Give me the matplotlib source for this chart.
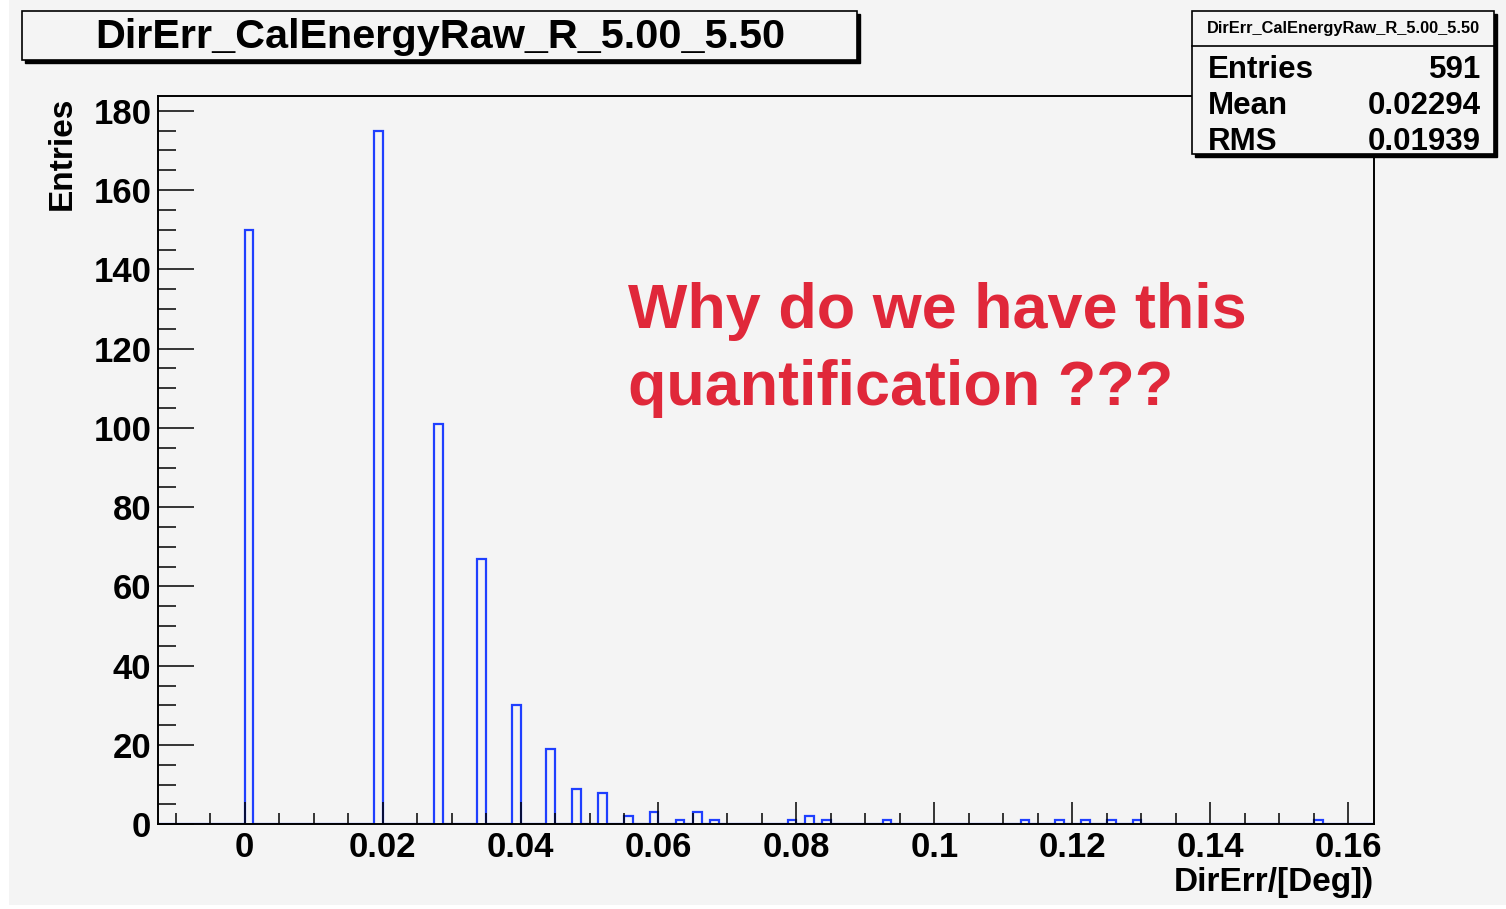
import numpy as np
import matplotlib
matplotlib.use("Agg")
import matplotlib.pyplot as plt
from matplotlib.patches import Rectangle
from matplotlib.ticker import MultipleLocator

# ---------------- data ----------------
bin_low = [0.0, 0.01875, 0.0275, 0.03375, 0.03875, 0.04375, 0.0475, 0.05125,
           0.055, 0.05875, 0.0625, 0.065, 0.0675, 0.07875, 0.08125, 0.08375,
           0.0925, 0.1125, 0.1175, 0.12125, 0.125, 0.12875, 0.155]
bin_counts = [150, 175, 101, 67, 30, 19, 9, 8,
              2, 3, 1, 3, 1, 1, 2, 1,
              1, 1, 1, 1, 1, 1, 1]
hist_xmin = -0.0125
hist_xmax = 0.16375
hist_nbins = 141
hist_name = "DirErr_CalEnergyRaw_R_5.00_5.50"
stat_labels = ["Entries", "Mean", "RMS"]
stat_values = ["591", "0.02294", "0.01939"]
x_label = "DirErr/[Deg])"
y_label = "Entries"
note_text = "Why do we have this\nquantification ???"

# ---------------- figure ----------------
W, H = 1506, 909
BG = "#f4f4f4"
FONT = "Liberation Sans"
fig = plt.figure(figsize=(W / 100, H / 100), dpi=100, facecolor="white")


def fx(x):
    return x / W


def fy(y):
    return 1 - y / H


# grey canvas
fig.patches.append(Rectangle((fx(9), fy(905)), fx(W - 9), 905 / H,
                             transform=fig.transFigure, facecolor=BG,
                             edgecolor="none", zorder=-10))

ax_l, ax_r, ax_t, ax_b = 158.3, 1374.3, 96.0, 824.3
ax = fig.add_axes([fx(ax_l), fy(ax_b), (ax_r - ax_l) / W, (ax_b - ax_t) / H])
ax.set_facecolor(BG)

edges = np.linspace(hist_xmin, hist_xmax, hist_nbins + 1)
width = edges[1] - edges[0]
vals, _ = np.histogram(np.array(bin_low) + width / 2, bins=edges,
                       weights=np.array(bin_counts, dtype=float))
ax.stairs(vals, edges, baseline=0, color="#1f3fff", linewidth=1.6, zorder=2)

ax.set_xlim(hist_xmin, hist_xmax)
ax.set_ylim(0, max(bin_counts) * 1.05)
ax.set_axisbelow(False)

for s in ax.spines.values():
    s.set_linewidth(1.4)
    s.set_color("black")
    s.set_zorder(3)

ax.xaxis.set_major_locator(MultipleLocator(0.02))
ax.xaxis.set_minor_locator(MultipleLocator(0.005))
ax.yaxis.set_major_locator(MultipleLocator(20))
ax.yaxis.set_minor_locator(MultipleLocator(5))
ax.tick_params(axis="x", which="major", direction="in", length=15.5, width=1.1,
               top=False, pad=5)
ax.tick_params(axis="x", which="minor", direction="in", length=8.2, width=1.1,
               top=False)
ax.tick_params(axis="y", which="major", direction="in", length=26, width=1.1,
               right=False, pad=5)
ax.tick_params(axis="y", which="minor", direction="in", length=13, width=1.1,
               right=False)

ax.set_xticks(np.arange(0, 0.161, 0.02))
ax.set_xticklabels(["0", "0.02", "0.04", "0.06", "0.08", "0.1", "0.12", "0.14", "0.16"])
ax.set_xlim(hist_xmin, hist_xmax)
for lab in ax.get_xticklabels() + ax.get_yticklabels():
    lab.set_fontfamily(FONT)
    lab.set_fontweight("bold")
    lab.set_fontsize(25)

# axis titles
fig.text(fx(62), fy(97), y_label, rotation=90, ha="center", va="top",
         fontsize=24, fontweight="bold", family=FONT)
fig.text(fx(1374), fy(883), x_label, ha="right", va="center",
         fontsize=24, fontweight="bold", family=FONT)


# boxes with shadow
def box(x0, y0, x1, y1, shadow=3):
    fig.patches.append(Rectangle((fx(x0 + shadow), fy(y1 + shadow)),
                                 (x1 - x0) / W, (y1 - y0) / H,
                                 transform=fig.transFigure, facecolor="black",
                                 edgecolor="black", linewidth=1, zorder=5))
    fig.patches.append(Rectangle((fx(x0), fy(y1)), (x1 - x0) / W, (y1 - y0) / H,
                                 transform=fig.transFigure, facecolor=BG,
                                 edgecolor="black", linewidth=1.2, zorder=6))


box(22, 11, 857, 60)
fig.text(fx(440), fy(37), hist_name, ha="center", va="center", fontsize=29.8,
         fontweight="bold", family=FONT, zorder=7)

# stats box
box(1192, 11, 1494, 154)
fig.lines.append(plt.Line2D([fx(1192), fx(1494)], [fy(46), fy(46)],
                            transform=fig.transFigure, color="black",
                            linewidth=1.2, zorder=7))
fig.text(fx(1343), fy(28), hist_name, ha="center", va="center", fontsize=11.8,
         fontweight="bold", family=FONT, zorder=7)
for i, (lab, val) in enumerate(zip(stat_labels, stat_values)):
    yy = 70 + i * 36
    fig.text(fx(1208), fy(yy), lab, ha="left", va="center", fontsize=22.5,
             fontweight="bold", family=FONT, zorder=7)
    fig.text(fx(1481), fy(yy), val, ha="right", va="center", fontsize=22.5,
             fontweight="bold", family=FONT, zorder=7)

# red annotation (baseline refers to the last line)
fig.text(fx(628), fy(405), note_text, ha="left", va="baseline", fontsize=45.3,
         fontweight="bold", family=FONT, color="#e0283a", linespacing=1.4,
         zorder=7)

fig.savefig("out.png", dpi=100, facecolor=fig.get_facecolor())
